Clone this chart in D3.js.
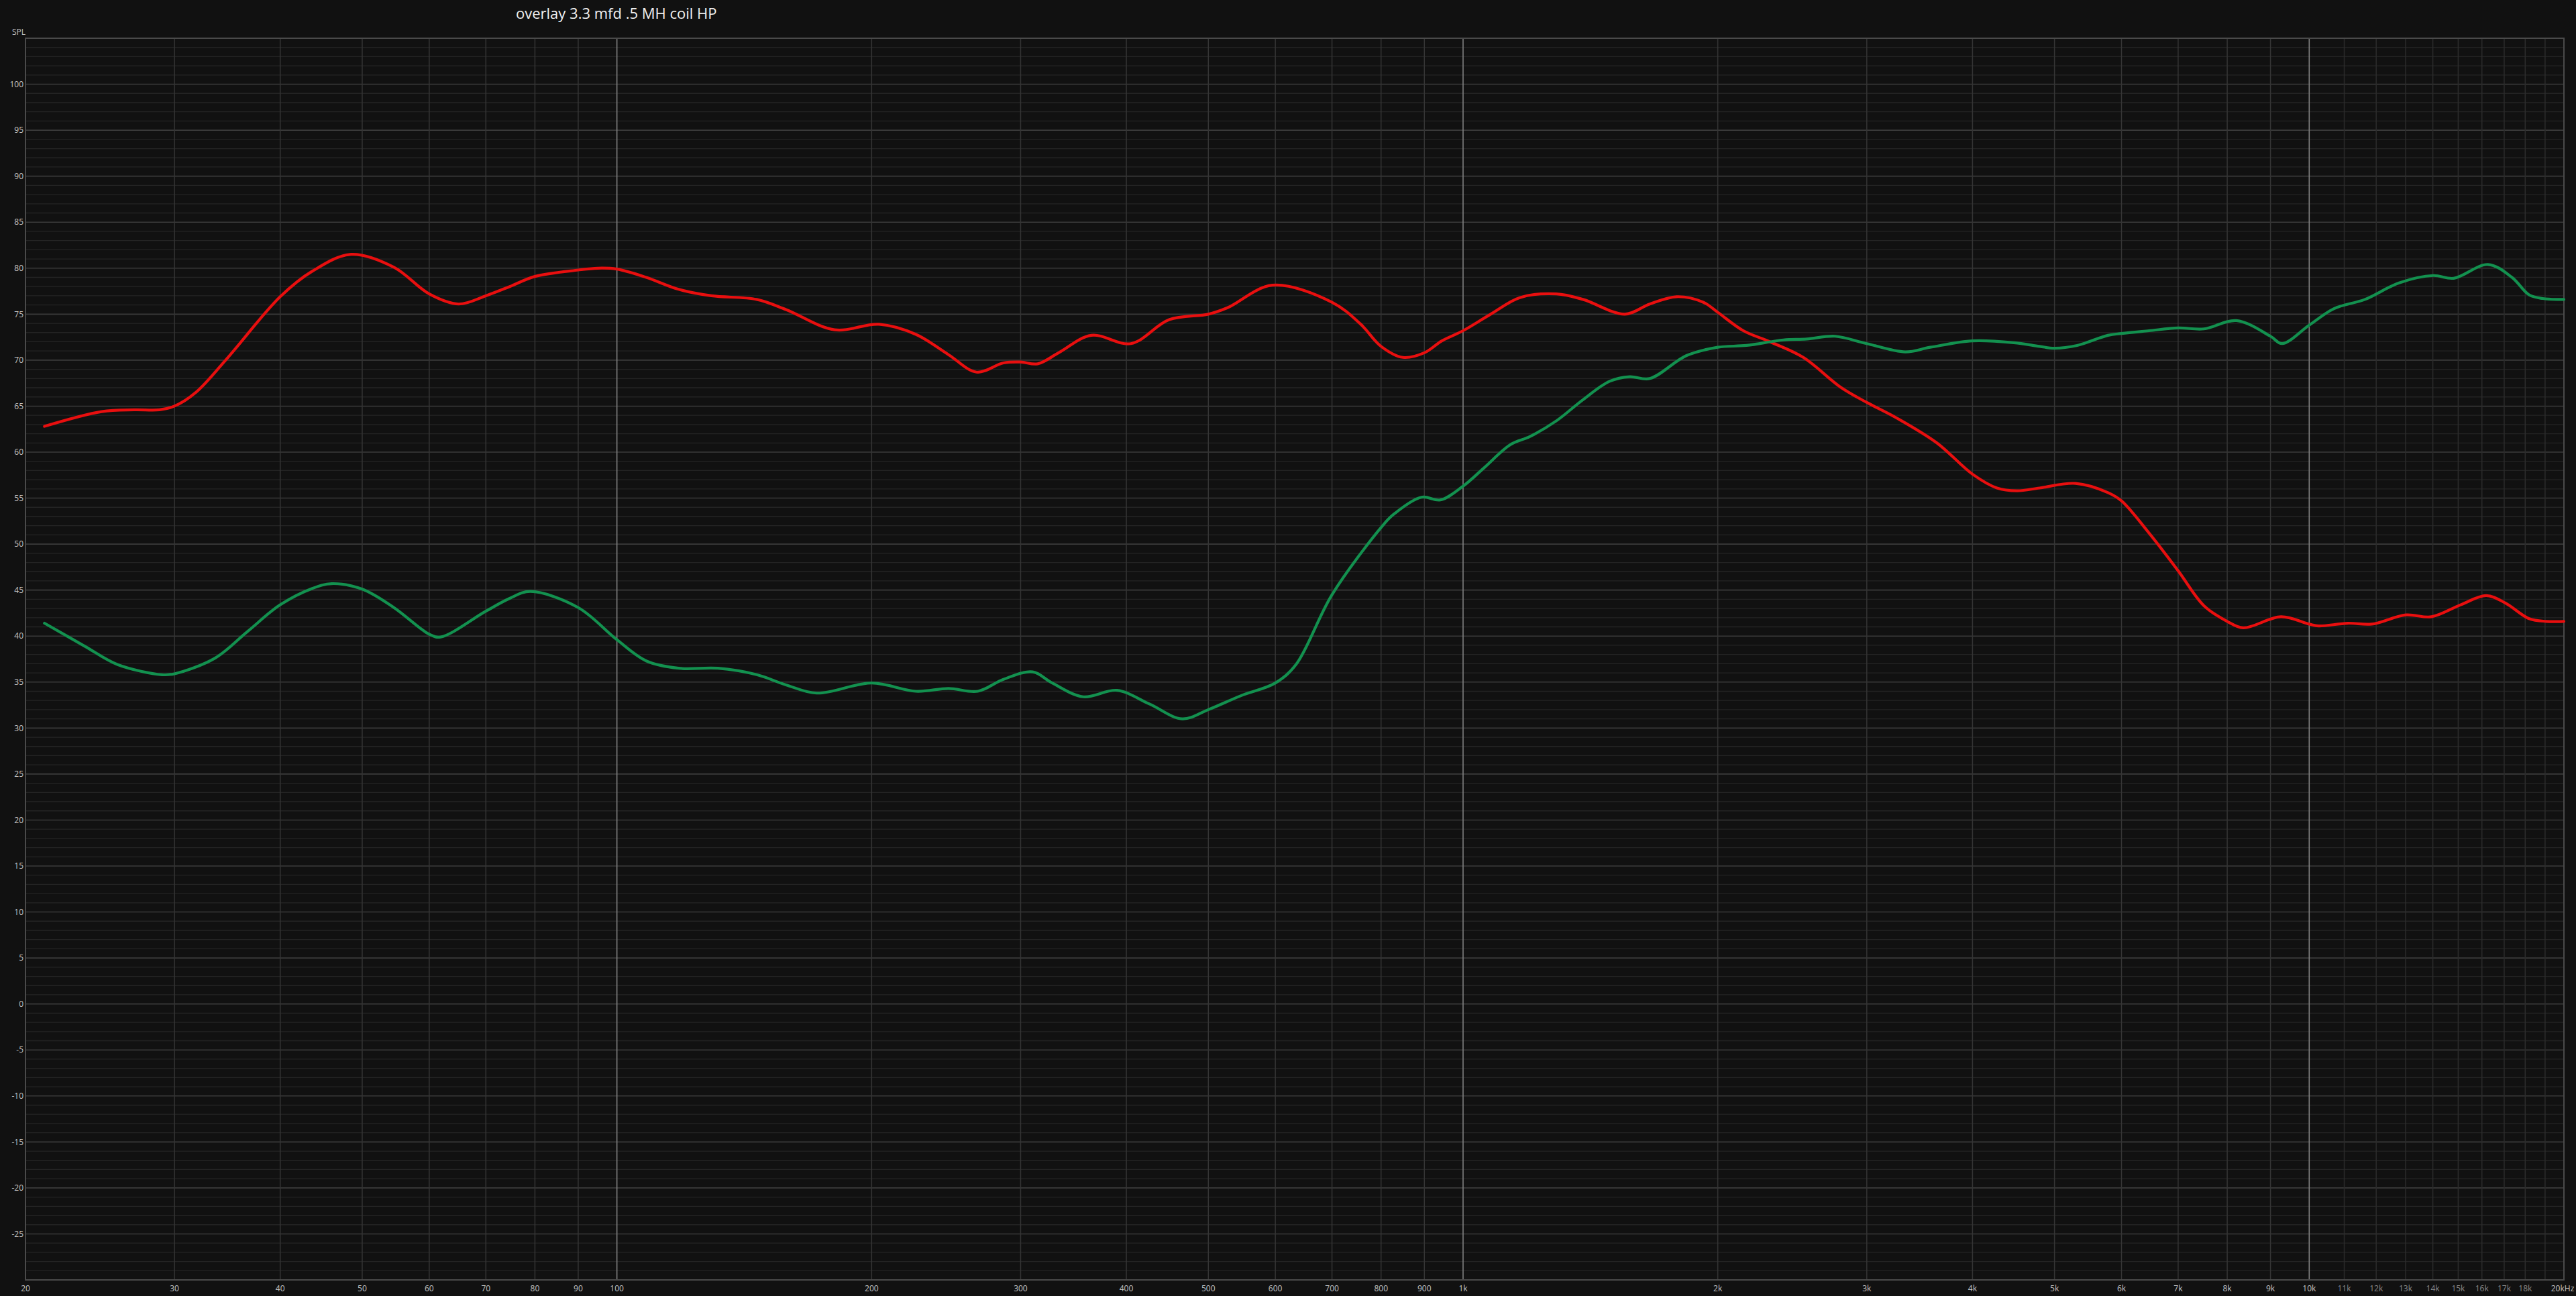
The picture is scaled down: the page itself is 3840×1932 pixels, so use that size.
<!DOCTYPE html>
<html><head><meta charset="utf-8">
<script src="https://cdn.jsdelivr.net/npm/d3@7/dist/d3.min.js"></script>
<style>html,body{margin:0;padding:0;background:#111111;overflow:hidden}</style>
</head><body>
<svg id="chart" width="3840" height="1932"></svg>
<script>
const title = "overlay 3.3 mfd .5 MH coil HP";
const yLabel = "SPL";
const yTicks = [100,95,90,85,80,75,70,65,60,55,50,45,40,35,30,25,20,15,10,5,0,-5,-10,-15,-20,-25];
const xTickFreqs = [20,30,40,50,60,70,80,90,100,200,300,400,500,600,700,800,900,1000,2000,3000,4000,5000,6000,7000,8000,9000,10000,11000,12000,13000,14000,15000,16000,17000,18000,20000];
const xTickLabels = ["20","30","40","50","60","70","80","90","100","200","300","400","500","600","700","800","900","1k","2k","3k","4k","5k","6k","7k","8k","9k","10k","11k","12k","13k","14k","15k","16k","17k","18k","20kHz"];
const extraGridFreqs = [19000];
const decadeFreqs = [100,1000,10000];

const redFreq = [21.06,24.6,26.9,28.8,30,31.8,34.7,40,43.7,48.5,54.5,60,65,70,74.7,80,90,94.9,100,108.3,118.3,129.3,146.3,158.4,180.8,204,225.6,246.5,266.1,286.3,300,314.2,332.7,363.6,405,449.4,500,526.7,595,700,757,800,849,900,944,1000,1078,1167,1289,1386,1553,1662,1788,1922,2000,2144,2305,2524,2790,3000,3255,3630,4000,4275,4516,4801,5294,5783,6000,6467,7000,7509,8000,8357,9262,10000,10257,11107,11853,13010,13948,15100,16190,17050,18190,19060,20000];
const redDb = [62.8,64.4,64.6,64.6,65.0,66.5,70.3,76.9,79.7,81.5,80.1,77.2,76.1,77.0,78.0,79.1,79.8,80.0,79.9,79.0,77.7,77.0,76.6,75.5,73.3,73.9,72.8,70.6,68.7,69.7,69.8,69.6,70.8,72.7,71.8,74.4,75.0,75.7,78.15,76.3,73.9,71.5,70.3,70.8,72.1,73.2,75.0,76.8,77.2,76.6,75.0,76.1,76.9,76.3,75.2,73.2,72.0,70.3,67.1,65.4,63.7,61.0,57.6,56.1,55.8,56.1,56.6,55.6,54.7,51.2,47.1,43.3,41.6,40.9,42.1,41.3,41.1,41.4,41.3,42.3,42.1,43.4,44.4,43.6,41.9,41.6,41.6];

const greenFreq = [21.06,23.5,25.7,29.0,30,33.5,36.6,40,43.7,46.0,50,54.5,60,61.9,70,74.7,79,90,100,108.3,118.3,131.6,146.3,158.4,172.2,200,225.6,246.5,267,286.3,310,326.9,355.7,390,426.3,465.6,500,545.8,600,634.6,700,800,827,893,940,1000,1059,1137,1200,1289,1386,1490,1574,1662,1837,2000,2163,2391,2548,2752,3000,3330,3565,4000,4475,4801,5000,5318,5783,6000,6467,7000,7509,8204,9000,9287,10000,10698,11636,12770,14013,14818,16265,17363,18190,18880,20000];
const greenDb = [41.4,38.9,36.9,35.8,35.9,37.6,40.5,43.4,45.2,45.7,45.1,43.1,40.2,39.9,42.7,44.1,44.85,43.1,39.6,37.3,36.5,36.5,35.8,34.7,33.8,34.9,34.0,34.3,34.0,35.3,36.1,34.9,33.4,34.1,32.6,31.0,32.0,33.5,34.9,36.9,44.5,51.8,53.2,55.1,54.8,56.3,58.3,60.8,61.7,63.4,65.7,67.7,68.2,68.0,70.5,71.4,71.6,72.2,72.3,72.6,71.8,70.9,71.4,72.1,71.9,71.5,71.3,71.6,72.7,72.9,73.2,73.5,73.4,74.3,72.6,71.8,73.8,75.6,76.6,78.4,79.2,78.9,80.4,79.0,77.1,76.7,76.6];

const series = [
  {name:"red", freq:redFreq, db:redDb, color:"#e80f0f"},
  {name:"green", freq:greenFreq, db:greenDb, color:"#13914f"}
];

const svg = d3.select("#chart");
const L = 38, R = 3822, T = 57, B = 1908;
const x = d3.scaleLog().domain([20,20000]).range([L,R]);
const y = d3.scaleLinear().domain([-30,105]).range([B,T]);

svg.append("rect").attr("width",3840).attr("height",1932).attr("fill","#111111");

const grid = svg.append("g");
grid.selectAll("line.minor").data(d3.range(-29,105).filter(v=>v%5!==0)).join("line")
  .attr("x1",L).attr("x2",R).attr("y1",d=>y(d)).attr("y2",d=>y(d))
  .attr("stroke","#242424").attr("stroke-width",1.3);
grid.selectAll("line.major").data(d3.range(-25,105,5)).join("line")
  .attr("x1",L).attr("x2",R).attr("y1",d=>y(d)).attr("y2",d=>y(d))
  .attr("stroke","#3b3b3b").attr("stroke-width",1.6);
const vFreqs = xTickFreqs.filter(f=>f>20&&f<20000&&!decadeFreqs.includes(f)).concat(extraGridFreqs);
grid.selectAll("line.v").data(vFreqs).join("line")
  .attr("x1",d=>x(d)).attr("x2",d=>x(d)).attr("y1",T).attr("y2",B)
  .attr("stroke",d=>d>10000?"#2c2c2c":"#353535").attr("stroke-width",1.5);
grid.selectAll("line.dec").data(decadeFreqs).join("line")
  .attr("x1",d=>x(d)).attr("x2",d=>x(d)).attr("y1",T).attr("y2",B)
  .attr("stroke","#808080").attr("stroke-width",1.6);
svg.append("rect").attr("x",L).attr("y",T).attr("width",R-L).attr("height",B-T)
  .attr("fill","none").attr("stroke","#4a4a4a").attr("stroke-width",2);

const line = d3.line().x(d=>x(d[0])).y(d=>y(d[1])).curve(d3.curveCatmullRom.alpha(0.5));
series.forEach(s=>{
  const pts = s.freq.map((f,i)=>[f,s.db[i]]);
  svg.append("path").datum(pts).attr("d",line).attr("fill","none")
    .attr("stroke",s.color).attr("stroke-width",4.2).attr("stroke-linejoin","round").attr("stroke-linecap","round");
});

const font = "'Open Sans','Noto Sans',sans-serif";
svg.append("g").selectAll("text").data(yTicks).join("text")
  .attr("x",35).attr("y",d=>y(d)).attr("dy","0.35em").attr("text-anchor","end")
  .attr("font-family",font).attr("font-size",12).attr("fill","#c4c4c4").text(d=>d);
svg.append("text").attr("x",18).attr("y",52).attr("font-family",font).attr("font-size",12)
  .attr("fill","#c4c4c4").text(yLabel);

svg.append("g").selectAll("text").data(xTickFreqs).join("text")
  .attr("x",(d,i)=>x(d)+(i===xTickFreqs.length-1?-2:0)).attr("y",1921).attr("dy","0.35em").attr("text-anchor","middle")
  .attr("font-family",font).attr("font-size",12)
  .attr("fill",d=>(d>10000&&d<20000)?"#8a8a8a":"#c4c4c4")
  .text((d,i)=>xTickLabels[i]);

svg.append("text").attr("x",769).attr("y",28).attr("font-family",font).attr("font-size",22)
  .attr("fill","#f0f0f0").text(title);
</script>
</body></html>
